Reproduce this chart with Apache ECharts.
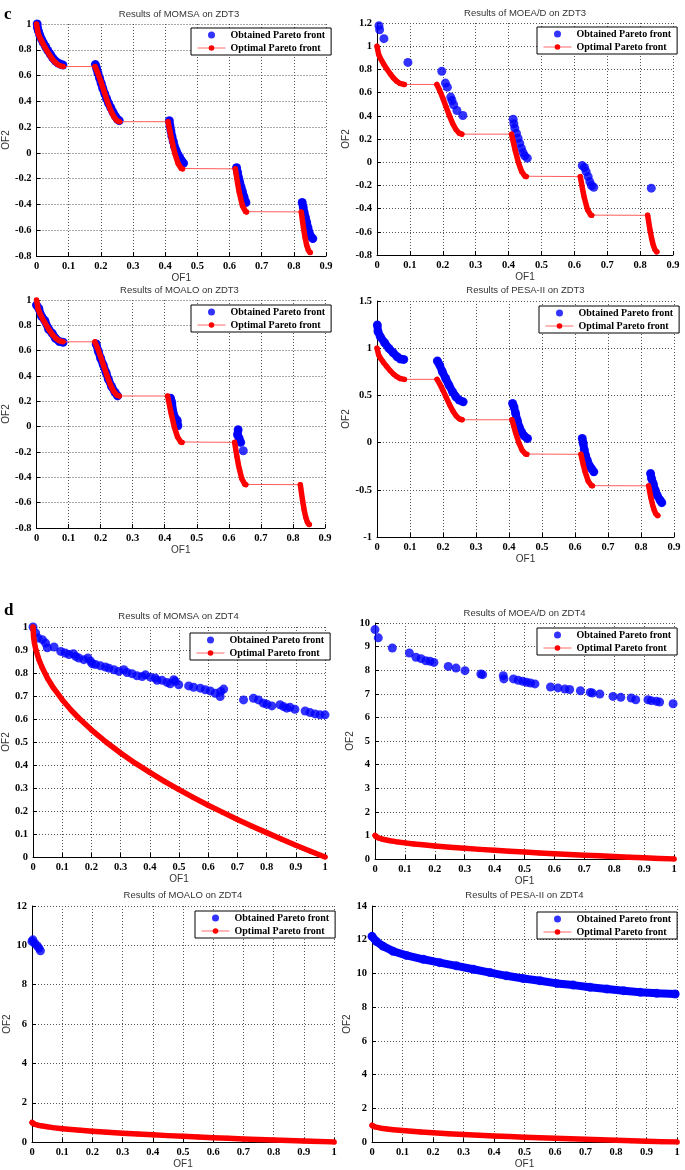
<!DOCTYPE html>
<html>
<head>
<meta charset="utf-8">
<title>Pareto fronts on ZDT3 and ZDT4</title>
<script src="https://cdn.jsdelivr.net/npm/echarts@6/dist/echarts.min.js"></script>
<style>
  html, body { margin: 0; padding: 0; background: #fff; }
  #chart { width: 685px; height: 1170px; }
</style>
</head>
<body>
<div id="chart"></div>
<script>
// true fronts; ZDT3 is split into its five pieces
var zdt3Front = [
  [[0, 1], [0.005, 0.929], [0.01, 0.897], [0.02, 0.847], [0.03, 0.803], [0.04, 0.762], [0.05, 0.726], [0.06, 0.698], [0.07, 0.679], [0.083, 0.67]],
  [[0.182, 0.67], [0.19, 0.623], [0.2, 0.553], [0.21, 0.477], [0.22, 0.402], [0.23, 0.334], [0.24, 0.282], [0.25, 0.25], [0.258, 0.242]],
  [[0.409, 0.242], [0.415, 0.167], [0.42, 0.105], [0.43, -0.004], [0.44, -0.082], [0.45, -0.121], [0.454, -0.124]],
  [[0.618, -0.124], [0.625, -0.233], [0.63, -0.303], [0.64, -0.409], [0.65, -0.456], [0.653, -0.458]],
  [[0.823, -0.458], [0.83, -0.583], [0.835, -0.658], [0.84, -0.715], [0.845, -0.754], [0.85, -0.772], [0.852, -0.773]]
];
var zdt4Front = [
  [[0, 1], [0.002, 0.955], [0.005, 0.929], [0.01, 0.9], [0.02, 0.859], [0.03, 0.827], [0.05, 0.776], [0.07, 0.735],
   [0.1, 0.684], [0.13, 0.639], [0.16, 0.6], [0.2, 0.553], [0.25, 0.5], [0.3, 0.452], [0.35, 0.408], [0.4, 0.368],
   [0.45, 0.329], [0.5, 0.293], [0.55, 0.258], [0.6, 0.225], [0.65, 0.194], [0.7, 0.163], [0.75, 0.134], [0.8, 0.106],
   [0.85, 0.078], [0.9, 0.051], [0.95, 0.025], [1, 0]]
];

// obtained fronts
var momsaZdt3 = [
  [[0.002, 1.0], [0.003, 0.97], [0.006, 0.945], [0.01, 0.915], [0.015, 0.885], [0.021, 0.855], [0.028, 0.825], [0.035, 0.795],
   [0.043, 0.765], [0.051, 0.735], [0.059, 0.712], [0.067, 0.697], [0.075, 0.688], [0.082, 0.682]],
  [[0.183, 0.685], [0.187, 0.655], [0.191, 0.62], [0.196, 0.58], [0.201, 0.54], [0.206, 0.5], [0.212, 0.46], [0.218, 0.42],
   [0.224, 0.385], [0.231, 0.35], [0.238, 0.315], [0.245, 0.285], [0.252, 0.26], [0.257, 0.25]],
  [[0.413, 0.25], [0.415, 0.21], [0.418, 0.17], [0.421, 0.13], [0.425, 0.09], [0.429, 0.05], [0.434, 0.02], [0.439, -0.01],
   [0.445, -0.035], [0.451, -0.06], [0.457, -0.08]],
  [[0.622, -0.115], [0.625, -0.15], [0.628, -0.19], [0.632, -0.23], [0.636, -0.265], [0.64, -0.3], [0.645, -0.34], [0.651, -0.385]],
  [[0.826, -0.385], [0.829, -0.42], [0.832, -0.46], [0.836, -0.5], [0.84, -0.54], [0.844, -0.58], [0.848, -0.62], [0.853, -0.65], [0.859, -0.665]]
];
var moeadZdt3 = [
  [[0.006, 1.177], [0.008, 1.142], [0.021, 1.065], [0.094, 0.86], [0.197, 0.783], [0.208, 0.682], [0.214, 0.647], [0.224, 0.561],
   [0.228, 0.532], [0.233, 0.495], [0.243, 0.446], [0.261, 0.403],
   [0.414, 0.371], [0.416, 0.331], [0.419, 0.294], [0.424, 0.25], [0.429, 0.207], [0.434, 0.164], [0.439, 0.121], [0.444, 0.083],
   [0.449, 0.055], [0.457, 0.035],
   [0.624, -0.029], [0.631, -0.046], [0.636, -0.081], [0.642, -0.124], [0.647, -0.167], [0.652, -0.201], [0.659, -0.216],
   [0.834, -0.224]]
];
var moaloZdt3 = [
  [[0, 0.96], [0.007, 0.934], [0.015, 0.874], [0.026, 0.837], [0.038, 0.769], [0.049, 0.737], [0.059, 0.698], [0.071, 0.672], [0.083, 0.666]],
  [[0.186, 0.653], [0.193, 0.593], [0.2, 0.54], [0.208, 0.488], [0.217, 0.427], [0.224, 0.375], [0.234, 0.317], [0.245, 0.27], [0.253, 0.243]],
  [[0.418, 0.225], [0.422, 0.191], [0.428, 0.094], [0.433, 0.067], [0.439, 0.049], [0.441, 0.007]],
  [[0.629, -0.025], [0.627, -0.064], [0.632, -0.09], [0.637, -0.124]],
  [[0.645, -0.19]]
];
var pesaZdt3 = [
  [[0.001, 1.245], [0.003, 1.175], [0.01, 1.122], [0.023, 1.058], [0.036, 0.998], [0.049, 0.952], [0.061, 0.909], [0.071, 0.885], [0.081, 0.881]],
  [[0.183, 0.864], [0.19, 0.821], [0.198, 0.75], [0.208, 0.68], [0.218, 0.609], [0.229, 0.538], [0.239, 0.485], [0.249, 0.45], [0.261, 0.432]],
  [[0.411, 0.414], [0.415, 0.379], [0.42, 0.308], [0.425, 0.238], [0.431, 0.167], [0.438, 0.114], [0.446, 0.071], [0.456, 0.043]],
  [[0.622, 0.043], [0.625, -0.01], [0.628, -0.074], [0.632, -0.134], [0.637, -0.187], [0.643, -0.24], [0.65, -0.275], [0.657, -0.31]],
  [[0.829, -0.328], [0.832, -0.381], [0.837, -0.434], [0.843, -0.505], [0.849, -0.558], [0.858, -0.611], [0.863, -0.636]]
];
var momsaZdt4 = [
  [[0, 1.0], [0.009, 0.974], [0.017, 0.952], [0.032, 0.945], [0.043, 0.93], [0.049, 0.91], [0.072, 0.913], [0.095, 0.894],
   [0.11, 0.887], [0.123, 0.88], [0.138, 0.884], [0.146, 0.872], [0.157, 0.865], [0.174, 0.858], [0.188, 0.865], [0.197, 0.851],
   [0.203, 0.84], [0.214, 0.837], [0.231, 0.831], [0.248, 0.826], [0.26, 0.821], [0.277, 0.814], [0.294, 0.807], [0.311, 0.814],
   [0.322, 0.802], [0.339, 0.797], [0.356, 0.788], [0.374, 0.785], [0.385, 0.792], [0.402, 0.782], [0.419, 0.778], [0.425, 0.768],
   [0.442, 0.768], [0.459, 0.759], [0.47, 0.753], [0.482, 0.771], [0.487, 0.764], [0.499, 0.749], [0.533, 0.744], [0.55, 0.738],
   [0.573, 0.734], [0.59, 0.727], [0.607, 0.722], [0.624, 0.712], [0.641, 0.698], [0.643, 0.72], [0.653, 0.73], [0.721, 0.683],
   [0.755, 0.69], [0.772, 0.683], [0.789, 0.669], [0.801, 0.664], [0.818, 0.657], [0.846, 0.662], [0.858, 0.654], [0.869, 0.647],
   [0.88, 0.651], [0.897, 0.642], [0.932, 0.635], [0.949, 0.628], [0.966, 0.622], [0.983, 0.618], [1.0, 0.618]]
];
var moeadZdt4 = [
  [[0, 9.72], [0.011, 9.37], [0.058, 8.94], [0.115, 8.73], [0.137, 8.55], [0.154, 8.49], [0.17, 8.4], [0.184, 8.38], [0.197, 8.33],
   [0.245, 8.16], [0.271, 8.09], [0.301, 7.98], [0.354, 7.84], [0.36, 7.81], [0.429, 7.77], [0.431, 7.63], [0.463, 7.63], [0.479, 7.57],
   [0.494, 7.53], [0.507, 7.49], [0.52, 7.46], [0.535, 7.42], [0.587, 7.29], [0.612, 7.25], [0.635, 7.2], [0.651, 7.18], [0.687, 7.13],
   [0.72, 7.06], [0.727, 7.03], [0.752, 6.99], [0.796, 6.89], [0.822, 6.85], [0.857, 6.82], [0.872, 6.75], [0.913, 6.75], [0.924, 6.71],
   [0.941, 6.68], [0.952, 6.65], [0.997, 6.58]]
];
var moaloZdt4 = [
  [[0, 10.2], [0.003, 10.28], [0.009, 10.1], [0.017, 9.98], [0.023, 9.86], [0.028, 9.72]]
];
var pesaZdt4 = [
  [[0, 12.2], [0.014, 11.9], [0.036, 11.62], [0.069, 11.32], [0.113, 11.07], [0.168, 10.84], [0.222, 10.64], [0.277, 10.45],
   [0.332, 10.25], [0.387, 10.05], [0.441, 9.86], [0.496, 9.7], [0.551, 9.57], [0.606, 9.41], [0.66, 9.31], [0.715, 9.18],
   [0.77, 9.08], [0.825, 8.98], [0.88, 8.88], [0.934, 8.82], [0.994, 8.78]]
];

var panelTitles = [
  'Results of MOMSA on ZDT3', 'Results of MOEA/D on ZDT3', 'Results of MOALO on ZDT3', 'Results of PESA-II on ZDT3',
  'Results of MOMSA on ZDT4', 'Results of MOEA/D on ZDT4', 'Results of MOALO on ZDT4', 'Results of PESA-II on ZDT4'
];
var obtained = [momsaZdt3, moeadZdt3, moaloZdt3, pesaZdt3, momsaZdt4, moeadZdt4, moaloZdt4, pesaZdt4];
var fronts = [zdt3Front, zdt3Front, zdt3Front, zdt3Front, zdt4Front, zdt4Front, zdt4Front, zdt4Front];
var xMax = [0.9, 0.9, 0.9, 0.9, 1, 1, 1, 1];
var yMin = [-0.8, -0.8, -0.8, -1, 0, 0, 0, 0];
var yMax = [1, 1.2, 1, 1.5, 1, 10, 12, 14];
var yStep = [0.2, 0.2, 0.2, 0.5, 0.1, 1, 2, 2];

// layout: plot boxes [left, top, width, height]
var boxes = [
  [32, 24, 294, 232], [377, 23, 296, 232],
  [34, 300, 291, 228], [377, 301, 297, 236],
  [32, 627, 293, 230], [375, 623, 299, 236],
  [32, 906, 302, 237], [372, 906, 305, 239]
];
var legendPos = [[191, 28], [537, 27], [191, 305], [539, 306], [190, 633], [537, 628], [195, 911], [537, 912]];
var titleTop = [9, 8, 285, 285, 611, 608, 890, 890];
var yNameGap = [22, 20, 21, 23, 19, 17, 17, 15];
var dense = [true, false, true, true, false, false, false, true];

var OBT = 'Obtained Pareto front';
var OPT = 'Optimal Pareto front';

function flat(groups) {
  return [].concat.apply([], groups);
}

function makeAxis(name, i, min, max, step, gap) {
  return {
    type: 'value', gridIndex: i, min: min, max: max, interval: step,
    name: name, nameLocation: 'middle', nameGap: gap,
    nameTextStyle: { fontFamily: 'Liberation Sans', fontSize: 10, color: '#333' },
    axisLine: { onZero: false, lineStyle: { color: '#000', width: 1 } },
    axisTick: { inside: true, length: 4, lineStyle: { color: '#000' } },
    axisLabel: { color: '#000', fontFamily: 'Liberation Serif', fontWeight: 'bold', fontSize: 10.5, margin: 5 },
    splitLine: { show: true, lineStyle: { color: '#555', width: 1, type: [1, 2] } }
  };
}

var chart = echarts.init(document.getElementById('chart'));

var option = {
  animation: false,
  title: [
    { text: 'c', left: 4, top: 6, padding: 0, textStyle: { fontFamily: 'Liberation Serif', fontSize: 17, fontWeight: 'bold', color: '#000' } },
    { text: 'd', left: 4, top: 602, padding: 0, textStyle: { fontFamily: 'Liberation Serif', fontSize: 17, fontWeight: 'bold', color: '#000' } }
  ],
  legend: [],
  grid: [],
  xAxis: [],
  yAxis: [],
  series: []
};

panelTitles.forEach(function (text, i) {
  var b = boxes[i];
  option.grid.push({ left: b[0], top: b[1], width: b[2], height: b[3] });
  option.xAxis.push(makeAxis('OF1', i, 0, xMax[i], 0.1, 14));
  option.yAxis.push(makeAxis('OF2', i, yMin[i], yMax[i], yStep[i], yNameGap[i]));

  option.title.push({
    text: text, left: b[0] + b[2] / 2, top: titleTop[i], textAlign: 'center', padding: 0,
    textStyle: { fontFamily: 'Liberation Sans', fontSize: 9.5, fontWeight: 'normal', color: '#333' }
  });

  option.legend.push({
    data: [
      { name: OBT },
      { name: OPT, lineStyle: { width: 1, color: '#ff6a6a' }, itemStyle: { color: '#ff0000' } }
    ],
    orient: 'vertical', left: legendPos[i][0], top: legendPos[i][1],
    itemWidth: 28, itemHeight: 7, itemGap: 3, padding: [2, 6, 2, 6],
    borderColor: '#000', borderWidth: 1, backgroundColor: '#fff',
    selectedMode: false,
    textStyle: { fontFamily: 'Liberation Serif', fontWeight: 'bold', fontSize: 10, color: '#000' }
  });

  option.series.push({
    name: OBT, type: 'scatter', xAxisIndex: i, yAxisIndex: i,
    data: flat(obtained[i]), symbol: 'circle', symbolSize: 9,
    itemStyle: { color: '#0000ff' }
  });
  if (dense[i]) {
    obtained[i].forEach(function (g) {
      option.series.push({
        name: OBT, type: 'line', xAxisIndex: i, yAxisIndex: i, data: g, symbol: 'none',
        lineStyle: { color: '#0000ff', width: 8, cap: 'round', join: 'round' }
      });
    });
  }

  option.series.push({
    name: OPT, type: 'line', xAxisIndex: i, yAxisIndex: i,
    data: flat(fronts[i]), symbol: 'circle', symbolSize: 5, showAllSymbol: true,
    itemStyle: { color: '#ff0000' },
    lineStyle: { color: '#ff5c5c', width: 1 }
  });
  fronts[i].forEach(function (seg) {
    option.series.push({
      name: OPT, type: 'line', xAxisIndex: i, yAxisIndex: i, data: seg, symbol: 'none',
      lineStyle: { color: '#ff0000', width: 5.5, cap: 'round', join: 'round' }
    });
  });
});

chart.setOption(option);
</script>
</body>
</html>
